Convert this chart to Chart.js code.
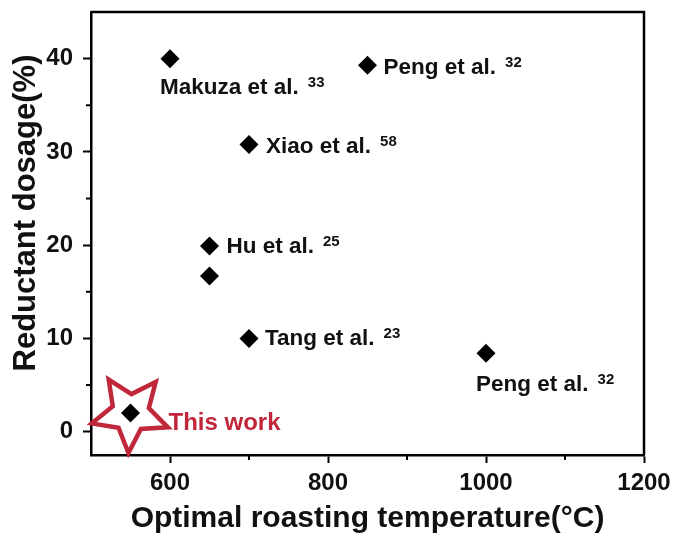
<!DOCTYPE html>
<html>
<head>
<meta charset="utf-8">
<script src="https://cdn.jsdelivr.net/npm/chart.js@4.4.1/dist/chart.umd.min.js"></script>
<style>
  html, body { margin: 0; padding: 0; background: #fff; }
  #wrap { width: 679px; height: 537px; }
</style>
</head>
<body>
<div id="wrap"><canvas id="chart"></canvas></div>
<script>
// data
const temps = [600, 850, 700, 650, 650, 700, 1000, 550];
const dosages = [40, 39.3, 30.8, 19.9, 16.7, 10, 8.4, 2];
const names = ["Makuza et al.", "Peng et al.", "Xiao et al.", "Hu et al.", "", "Tang et al.", "Peng et al.", "This work"];
const refs = ["33", "32", "58", "25", "", "23", "32", ""];

// label offsets from the marker (px)
const labelDx = [-10, 16, 17, 17, 0, 16, -10, 38];
const labelDy = [35, 9, 9, 7, 0, 7, 38, 17];

const xTicks = [600, 700, 800, 900, 1000, 1100, 1200];
const xMajor = [600, 800, 1000, 1200];
const yTicks = [0, 5, 10, 15, 20, 25, 30, 35, 40];
const yMajor = [0, 10, 20, 30, 40];

const FONT = "'Liberation Sans', Arial, sans-serif";
const RED = "#c1273a";

const extras = {
  id: "extras",
  beforeDatasetsDraw(chart) {
    const { ctx, scales: { x, y } } = chart;
    // star around "This work"
    const i = 7;
    const cx = x.getPixelForValue(temps[i]);
    const cy = y.getPixelForValue(dosages[i]);
    const R = 40, r = 19;
    ctx.save();
    ctx.beginPath();
    for (let k = 0; k < 10; k++) {
      const a = (93 + k * 36) * Math.PI / 180;
      const rr = k % 2 === 0 ? R : r;
      const px = cx + rr * Math.cos(a), py = cy + rr * Math.sin(a);
      if (k === 0) ctx.moveTo(px, py); else ctx.lineTo(px, py);
    }
    ctx.closePath();
    ctx.strokeStyle = RED;
    ctx.lineWidth = 4.5;
    ctx.lineJoin = "miter";
    ctx.stroke();
    ctx.restore();
  },
  afterDraw(chart) {
    const { ctx, chartArea: a, scales: { x, y } } = chart;
    ctx.save();
    // frame top + right
    ctx.strokeStyle = "#000";
    ctx.lineWidth = 2.5;
    ctx.beginPath();
    ctx.moveTo(a.left, a.top);
    ctx.lineTo(a.right, a.top);
    ctx.lineTo(a.right, a.bottom);
    ctx.stroke();
    // minor ticks
    ctx.lineWidth = 2;
    xTicks.filter(v => !xMajor.includes(v)).forEach(v => {
      const px = x.getPixelForValue(v);
      ctx.beginPath(); ctx.moveTo(px, a.bottom); ctx.lineTo(px, a.bottom + 5); ctx.stroke();
    });
    yTicks.filter(v => !yMajor.includes(v)).forEach(v => {
      const py = y.getPixelForValue(v);
      ctx.beginPath(); ctx.moveTo(a.left, py); ctx.lineTo(a.left - 5, py); ctx.stroke();
    });
    // point labels
    ctx.textBaseline = "alphabetic";
    ctx.textAlign = "left";
    names.forEach((n, i) => {
      if (!n) return;
      const px = x.getPixelForValue(temps[i]) + labelDx[i];
      const py = y.getPixelForValue(dosages[i]) + labelDy[i];
      const work = i === 7;
      ctx.fillStyle = work ? RED : "#111";
      ctx.font = (work ? "bold 24px " : "bold 22.5px ") + FONT;
      ctx.fillText(n, px, py);
      if (refs[i]) {
        const w = ctx.measureText(n).width;
        ctx.font = "bold 15px " + FONT;
        ctx.fillText(refs[i], px + w + 9, py - 7);
      }
    });
    // axis titles
    ctx.fillStyle = "#111";
    ctx.font = "bold 30px " + FONT;
    ctx.textAlign = "center";
    ctx.fillText("Optimal roasting temperature(°C)", (a.left + a.right) / 2, 527);
    ctx.font = "bold 31px " + FONT;
    ctx.translate(35, 213);
    ctx.rotate(-Math.PI / 2);
    ctx.fillText("Reductant dosage(%)", 0, 0);
    ctx.restore();
  }
};

new Chart(document.getElementById("chart"), {
  type: "scatter",
  data: {
    datasets: [{
      data: temps.map((t, i) => ({ x: t, y: dosages[i] })),
      pointStyle: "rectRot",
      pointRadius: 9.5,
      pointHoverRadius: 9.5,
      backgroundColor: "#000",
      borderColor: "#000",
      borderWidth: 0
    }]
  },
  options: {
    responsive: true,
    maintainAspectRatio: false,
    animation: false,
    layout: { padding: { top: 12, right: 35, left: 0, bottom: 0 } },
    plugins: { legend: { display: false }, tooltip: { enabled: false } },
    scales: {
      x: {
        type: "linear",
        min: 500,
        max: 1200,
        afterFit: s => { s.height = 82; s.paddingLeft = 0; s.paddingRight = 0; },
        afterBuildTicks: s => { s.ticks = xTicks.map(v => ({ value: v })); },
        border: { display: true, color: "#000", width: 2.5 },
        grid: {
          drawOnChartArea: false,
          drawTicks: true,
          tickLength: 8,
          tickWidth: 2,
          tickColor: c => (c.tick && xMajor.includes(c.tick.value)) ? "#000" : "rgba(0,0,0,0)"
        },
        ticks: {
          autoSkip: false,
          maxRotation: 0,
          padding: 6,
          color: "#111",
          font: { family: FONT, size: 24, weight: "bold" },
          callback: v => xMajor.includes(v) ? v : ""
        }
      },
      y: {
        type: "linear",
        min: -2.5,
        max: 45,
        afterFit: s => { s.width = 91; s.paddingTop = 0; s.paddingBottom = 0; },
        afterBuildTicks: s => { s.ticks = yTicks.map(v => ({ value: v })); },
        border: { display: true, color: "#000", width: 2.5 },
        grid: {
          drawOnChartArea: false,
          drawTicks: true,
          tickLength: 8,
          tickWidth: 2,
          tickColor: c => (c.tick && yMajor.includes(c.tick.value)) ? "#000" : "rgba(0,0,0,0)"
        },
        ticks: {
          autoSkip: false,
          padding: 10,
          color: "#111",
          font: { family: FONT, size: 24, weight: "bold" },
          callback: v => yMajor.includes(v) ? v : ""
        }
      }
    }
  },
  plugins: [extras]
});
</script>
</body>
</html>
